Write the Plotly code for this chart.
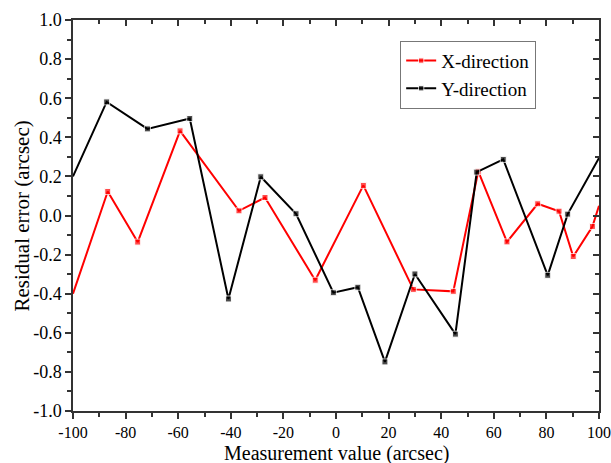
import plotly.graph_objects as go

# Data
x_red = [-100, -86.8, -75.4, -59.3, -36.9, -27.0, -7.9, 10.4, 29.4, 44.6, 54.1, 65.0, 76.7, 84.8, 90.2, 97.5, 100]
y_red = [-0.40, 0.123, -0.136, 0.433, 0.024, 0.092, -0.331, 0.154, -0.378, -0.388, 0.226, -0.135, 0.060, 0.022, -0.210, -0.056, 0.05]

x_black = [-100, -87.2, -71.7, -55.6, -40.9, -28.6, -15.2, -1.0, 8.3, 18.6, 30.0, 45.4, 53.5, 63.6, 80.5, 88.1, 100]
y_black = [0.20, 0.581, 0.443, 0.496, -0.427, 0.198, 0.009, -0.395, -0.367, -0.749, -0.299, -0.607, 0.222, 0.287, -0.306, 0.007, 0.294]

x_ticks = [-100, -80, -60, -40, -20, 0, 20, 40, 60, 80, 100]
y_ticks = [-1.0, -0.8, -0.6, -0.4, -0.2, 0.0, 0.2, 0.4, 0.6, 0.8, 1.0]

x_title = "Measurement value (arcsec)"
y_title = "Residual error (arcsec)"

FONT = "Liberation Serif, Times New Roman, serif"
AXC = "#333333"


def sizes(xs):
    # edge points are clipped continuation of the line: no visible marker
    return [0 if abs(v) >= 100 else 6 for v in xs]


fig = go.Figure()
fig.add_trace(go.Scatter(
    x=x_red, y=y_red, mode="lines+markers", name="X-direction",
    line=dict(color="#ff0000", width=2),
    marker=dict(symbol="square", size=sizes(x_red), color="#ff0000"),
))
fig.add_trace(go.Scatter(
    x=x_black, y=y_black, mode="lines+markers", name="Y-direction",
    line=dict(color="#000000", width=2),
    marker=dict(symbol="square", size=sizes(x_black), color="#000000"),
))

common = dict(showgrid=False, zeroline=False, showline=True, linecolor=AXC, linewidth=1.5,
              tickcolor=AXC, tickwidth=1.5, automargin=False)

fig.update_layout(
    width=611, height=463,
    margin=dict(l=73, r=12, t=20, b=52),
    paper_bgcolor="white", plot_bgcolor="white",
    font=dict(family=FONT, color="black"),
    showlegend=True,
    legend=dict(x=0.622, y=0.947, xanchor="left", yanchor="top",
                bordercolor="#777777", borderwidth=1, bgcolor="white",
                font=dict(family=FONT, size=19, color="black"),
                tracegroupgap=0),
    xaxis=dict(range=[-100, 100], tickvals=x_ticks, ticktext=[str(v) for v in x_ticks],
               ticks="outside", ticklen=6, tickfont=dict(size=16, family=FONT),
               minor=dict(dtick=10, tick0=0, ticks="outside", ticklen=4, tickcolor=AXC, tickwidth=1.5),
               **common),
    yaxis=dict(range=[-1.0, 1.0], tickvals=y_ticks, ticktext=["%.1f" % v for v in y_ticks],
               ticks="outside", ticklen=6, tickfont=dict(size=18, family=FONT),
               minor=dict(dtick=0.1, tick0=0, ticks="outside", ticklen=4, tickcolor=AXC, tickwidth=1.5),
               **common),
    xaxis2=dict(overlaying="x", matches="x", side="top", range=[-100, 100], tickvals=x_ticks,
                ticks="inside", ticklen=6, showticklabels=False,
                minor=dict(dtick=10, tick0=0, ticks="inside", ticklen=4, tickcolor=AXC, tickwidth=1.5),
                **common),
    yaxis2=dict(overlaying="y", matches="y", side="right", range=[-1.0, 1.0], tickvals=y_ticks,
                ticks="inside", ticklen=6, showticklabels=False,
                minor=dict(dtick=0.1, tick0=0, ticks="inside", ticklen=4, tickcolor=AXC, tickwidth=1.5),
                **common),
    annotations=[
        dict(text=x_title, xref="paper", yref="paper", x=0.5, y=-0.108,
             xanchor="center", yanchor="middle", showarrow=False,
             font=dict(family=FONT, size=20, color="black")),
        dict(text=y_title, xref="paper", yref="paper", x=-0.097, y=0.5,
             xanchor="center", yanchor="middle", textangle=-90, showarrow=False,
             font=dict(family=FONT, size=21, color="black")),
    ],
)

# invisible helper trace so the mirror axes are drawn
fig.add_trace(go.Scatter(x=[None], y=[None], xaxis="x2", yaxis="y2", showlegend=False, hoverinfo="skip"))

fig.write_html("out.html")
